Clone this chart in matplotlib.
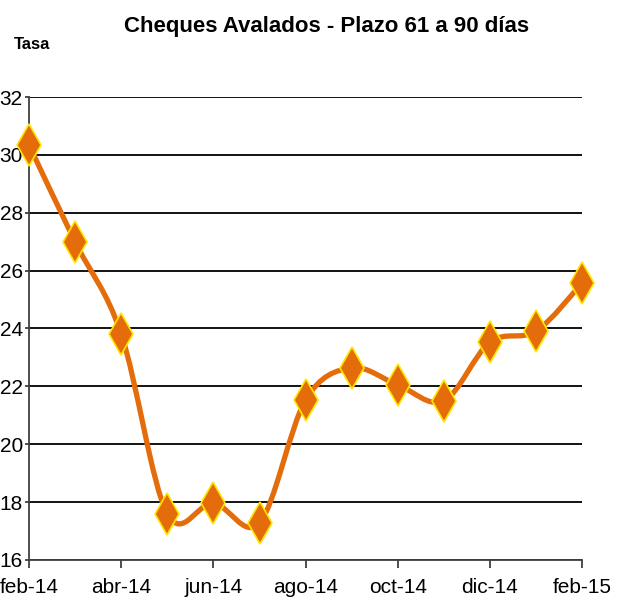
import numpy as np
import matplotlib.pyplot as plt
from matplotlib.path import Path
from matplotlib.patches import PathPatch

plt.rcParams['font.family'] = ['Liberation Sans', 'DejaVu Sans']

# datos
meses = ["feb-14", "mar-14", "abr-14", "may-14", "jun-14", "jul-14", "ago-14",
         "sep-14", "oct-14", "nov-14", "dic-14", "ene-15", "feb-15"]
tasa = [30.34, 26.99, 23.81, 17.59, 17.97, 17.28, 21.53,
        22.64, 22.05, 21.50, 23.53, 23.91, 25.57]
yticks = [16, 18, 20, 22, 24, 26, 28, 30, 32]

x = np.arange(len(tasa))
y = np.array(tasa)

fig = plt.figure(figsize=(6.18, 6.14), dpi=100)
ax = fig.add_axes([0.047, 0.088, 0.895, 0.754])

# smooth line like Excel (bezier through the points)
verts = [(x[0], y[0])]
codes = [Path.MOVETO]
n = len(x)
for i in range(n - 1):
    p0 = np.array([x[max(i - 1, 0)], y[max(i - 1, 0)]])
    p1 = np.array([x[i], y[i]])
    p2 = np.array([x[i + 1], y[i + 1]])
    p3 = np.array([x[min(i + 2, n - 1)], y[min(i + 2, n - 1)]])
    c1 = p1 + (p2 - p0) / 6
    c2 = p2 - (p3 - p1) / 6
    verts += [tuple(c1), tuple(c2), tuple(p2)]
    codes += [Path.CURVE4] * 3
ax.add_patch(PathPatch(Path(verts, codes), fill=False, edgecolor='#E46C0A',
                       lw=3.8, capstyle='round', joinstyle='round', zorder=3))

ax.plot(x, y, linestyle='none', marker='d', markersize=21,
        markerfacecolor='#E46C0A', markeredgecolor='#FFE600',
        markeredgewidth=1.2, zorder=4, clip_on=False)

ax.set_xlim(0, n - 1)
ax.set_ylim(16, 32)
ax.set_yticks(yticks)
ax.set_yticklabels([str(v) for v in yticks], fontsize=15)
ax.set_xticks(x[::2])
ax.set_xticklabels(meses[::2], fontsize=15)

ax.grid(axis='y', color='black', lw=1.3)
ax.set_axisbelow(True)
for s in ['top', 'right']:
    ax.spines[s].set_visible(False)
ax.spines['left'].set_color('#404040')
ax.spines['bottom'].set_color('#404040')
ax.spines['left'].set_linewidth(1.3)
ax.spines['bottom'].set_linewidth(1.3)
ax.tick_params(axis='y', length=3, pad=1.5, width=1.3, color='#404040')
ax.tick_params(axis='x', length=6, pad=7, width=1.3, color='#404040')

fig.text(0.528, 0.957, "Cheques Avalados - Plazo 61 a 90 días", ha='center',
         va='center', fontsize=16, fontweight='bold')
fig.text(0.052, 0.927, "Tasa", ha='center', va='center', fontsize=12,
         fontweight='bold')

fig.savefig("out.png", dpi=100)
